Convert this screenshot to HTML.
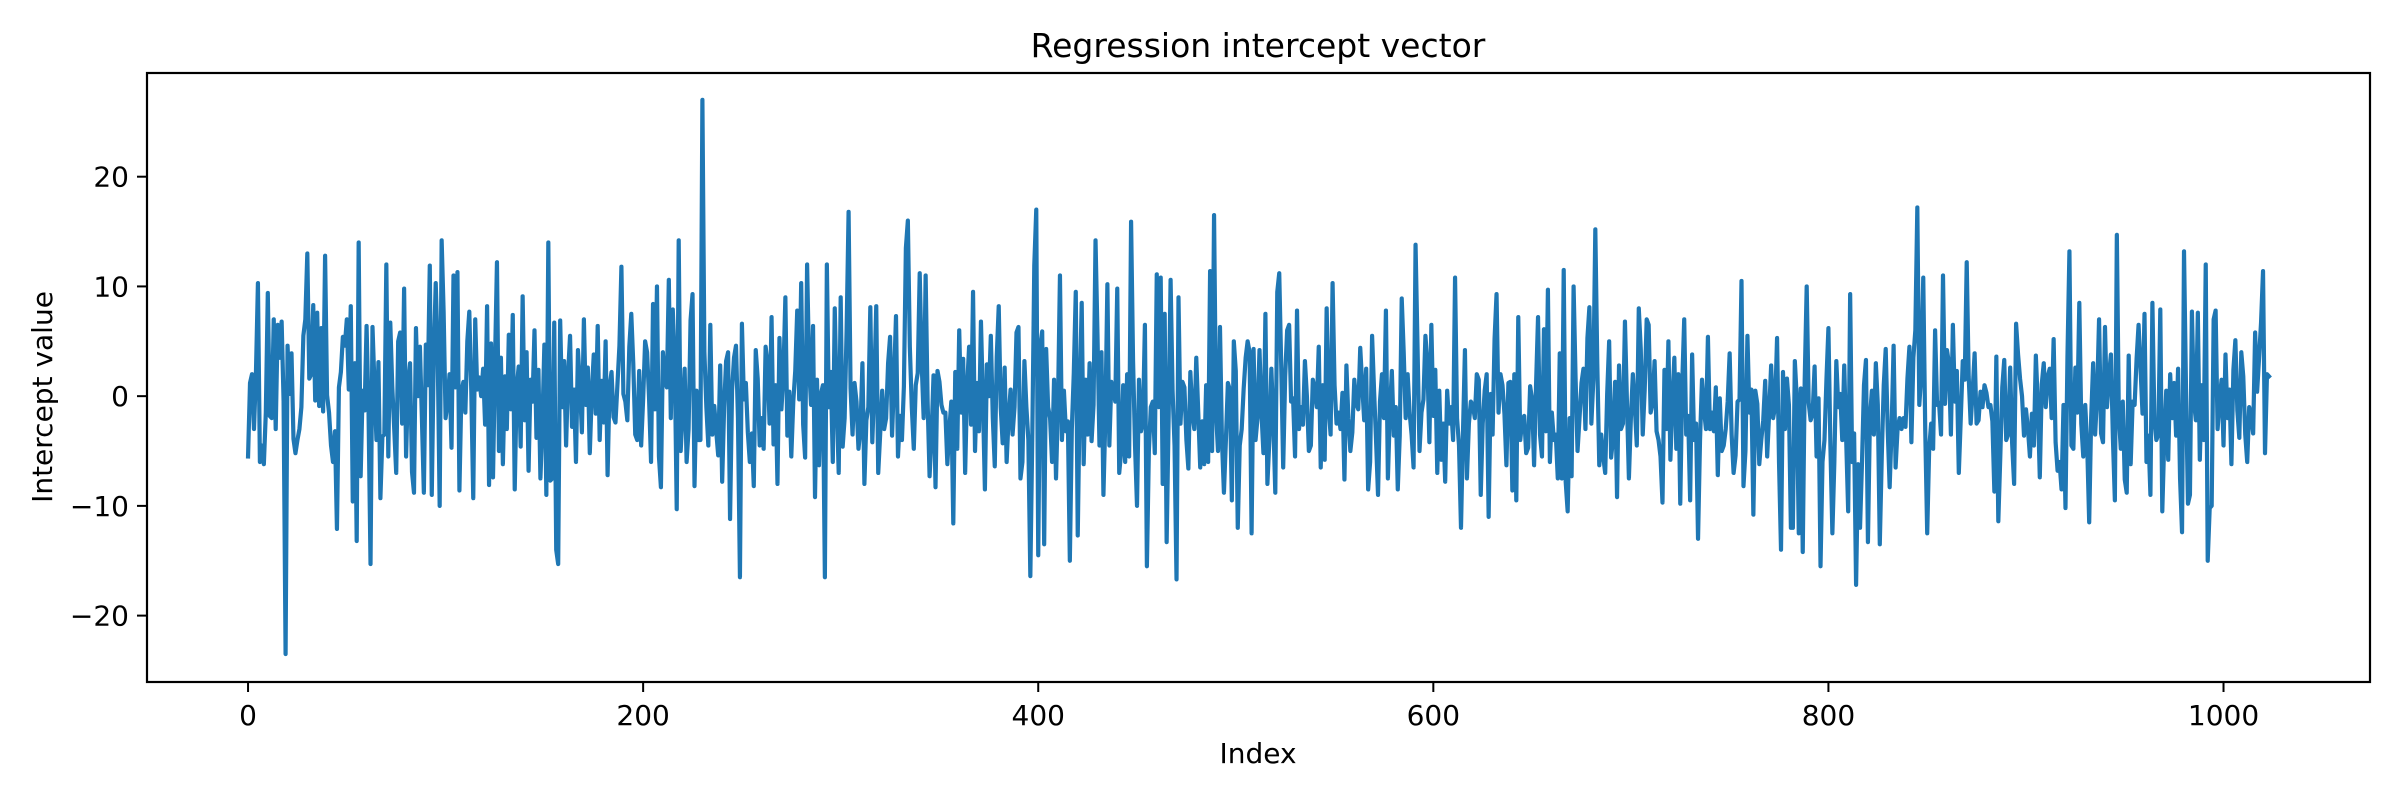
<!DOCTYPE html>
<html><head><meta charset="utf-8">
<style>
html,body{margin:0;padding:0;background:#fff;}
svg{display:block;font-family:"DejaVu Sans","Liberation Sans",sans-serif;}
</style></head>
<body>
<svg id="chart" width="2400" height="800" viewBox="0 0 2400 800" xmlns="http://www.w3.org/2000/svg">
<rect width="2400" height="800" fill="#fff"/>
<text x="1258" y="57" font-size="33" text-anchor="middle" fill="#000">Regression intercept vector</text>
<g id="ticks"></g>
<g id="series"></g>
<rect x="147" y="73" width="2223" height="609" fill="none" stroke="#000" stroke-width="2.2"/>
<text x="1258" y="763" font-size="28" text-anchor="middle" fill="#000">Index</text>
<text x="0" y="0" font-size="28" text-anchor="middle" fill="#000" transform="translate(52,397) rotate(-90)">Intercept value</text>
</svg>
<script>
const xTicks = [0, 200, 400, 600, 800, 1000];
const yTicks = [-20, -10, 0, 10, 20];
const yTickLabels = ["\u221220", "\u221210", "0", "10", "20"];
const interceptValues = [
-5.5,1.2,2.0,-3.0,2.1,10.3,-6.0,-4.5,-6.2,-1.5,9.4,-1.8,-2.0,7.0,-3.0,6.5,3.5,6.8,-0.5,-23.5,4.6,0.2,3.9,-3.9,-5.2,-4.0,-3.0,-1.0,5.5,7.0,13.0,1.6,2.0,8.3,-0.4,7.6,-0.9,6.2,-1.4,12.8,0.1,-1.5,-4.5,-6.0,-3.2,-12.1,0.8,2.2,5.4,4.6,7.0,0.6,8.2,-9.6,3.0,-13.2,14.0,-7.3,0.5,-1.3,6.4,-1.5,
-15.3,6.3,1.0,-4.0,3.1,-9.3,-3.7,-3.5,12.0,-5.5,6.7,0.9,-3.0,-7.0,5.0,5.8,-2.5,9.8,-5.5,1.2,3.0,-6.9,-8.8,6.2,0.0,4.5,-2.0,-8.8,4.7,1.0,11.9,-9.0,3.5,10.3,4.0,-10.0,14.2,7.7,-2.0,-0.5,2.0,-4.7,11.0,0.8,11.3,-8.6,0.4,1.3,-1.5,5.0,7.7,0.5,-9.3,7.0,0.6,1.7,0.0,2.5,-2.6,8.2,-8.1,4.8,-7.4,3.0,12.2,-5.0,
3.5,-6.2,1.8,-3.0,5.6,-1.2,7.4,-8.5,0.8,2.7,-4.6,9.1,-2.2,4.0,-6.8,1.5,-0.5,6.0,-3.8,2.4,-7.5,
-2.5,4.7,-9.0,14.0,-7.7,-7.5,6.7,-14.0,-15.3,6.9,
-1.0,3.2,-4.5,2.0,5.5,-2.8,0.6,-6.0,4.2,1.0,-3.3,7.0,-0.8,2.6,-5.2,0.3,3.8,-1.6,6.4,-4.0,1.4,-2.4,5.0,-7.2,0.9,2.2,
-1.9,-2.4,1.1,4.6,11.8,0.2,-0.5,-2.2,4.5,7.5,3.0,-3.5,-4.0,2.3,-4.5,-0.3,5.0,4.0,-0.2,-6.0,8.4,-1.2,10.0,-5.5,-8.3,4.0,1.5,0.8,10.6,-2.0,7.9,3.0,-10.3,14.2,-5.0,-1.5,2.5,-6.0,-3.0,6.9,9.3,-8.2,0.5,-4.0,-4.0,27.0,4.0,-1.0,-4.5,6.5,-3.5,-0.9,-3.2,-5.4,
2.8,-7.8,-1.0,3.2,4.0,-11.2,0.5,3.5,4.6,-2.0,-16.5,6.6,-0.3,1.2,-3.3,-6.0,-3.4,-8.2,4.2,1.6,-4.5,-2.0,-4.8,4.5,
3.0,-2.5,7.2,-4.4,1.0,-8.0,5.3,-1.2,2.0,9.0,-3.6,0.4,-5.5,
-0.5,2.3,7.8,-0.3,10.3,-2.6,-5.6,12.0,2.7,-0.8,6.4,-9.2,1.5,-6.3,0.2,1.0,-16.5,12.0,-1.0,2.2,-6.0,8.0,-0.5,-7.0,9.0,-4.6,-2.0,6.0,16.8,0.7,-3.5,1.2,-0.5,-4.8,-3.0,3.0,-8.0,-2.2,-1.0,8.1,
-4.2,1.0,8.2,-7.0,-3.4,0.5,-3.0,-2.0,3.0,5.4,-3.6,1.5,7.3,-5.5,-1.8,-4.0,0.9,13.5,16.0,4.5,-1.0,-4.8,1.0,2.1,11.2,3.0,-2.0,11.0,-0.5,-7.3,-3.5,1.9,-8.3,2.3,1.3,-0.8,-1.5,-1.5,-6.2,-3.0,-0.5,-11.6,
2.2,-4.8,6.0,-1.5,3.4,-7.0,0.8,4.5,-2.6,9.5,-5.0,1.2,-3.2,6.8,-0.4,-8.5,2.9,0.0,5.5,-2.0,-6.4,3.6,8.2,-1.0,-4.3,
2.6,-6.0,-2.0,0.6,-3.5,-1.0,5.8,6.3,-7.5,-6.0,3.2,-1.0,-4.0,-16.4,-3.5,11.9,17.0,-14.5,4.5,5.9,-13.5,4.3,
-1.0,-2.0,-6.0,1.5,-7.5,-0.7,11.0,-4.0,0.5,-3.2,-2.3,-15.0,-3.0,2.1,9.5,-12.7,0.0,8.5,-6.2,1.5,-3.5,3.0,-4.1,-0.8,14.2,5.5,-4.5,4.0,-9.0,-1.8,10.2,-4.5,1.3,0.6,-0.5,9.8,-7.0,-5.0,1.0,-6.0,2.0,-5.5,15.9,3.2,-4.5,-10.0,1.5,-3.2,-2.4,6.5,-15.5,-5.0,-1.0,-0.5,-5.2,11.1,-1.0,10.8,-8.0,7.5,-13.3,-2.0,10.6,0.5,
-4.5,-16.7,9.0,-2.5,1.3,0.8,-4.0,-6.6,2.2,-1.5,-3.0,3.5,-1.5,-6.5,-2.3,-6.2,1.0,-6.0,11.4,-5.0,16.5,-1.5,-5.0,6.3,-4.0,-8.8,-4.0,1.2,0.6,-9.5,5.0,2.3,-12.0,-4.5,-3.0,0.7,3.5,5.0,4.0,-12.5,4.3,-4.0,-2.0,4.2,-1.5,-5.2,7.5,-8.0,-4.0,2.5,-2.3,-8.8,9.5,11.2,2.8,-6.5,1.8,6.0,6.5,-0.5,-0.2,-5.5,7.8,-3.0,
-1.0,-2.6,3.2,0.0,-5.0,-4.5,1.5,0.6,-1.0,4.5,-6.5,1.0,-5.8,8.0,-1.0,-3.5,10.3,1.0,-2.5,-1.5,-3.0,0.3,-7.6,2.8,-2.0,-5.0,-3.3,1.5,-0.7,-1.2,4.4,1.0,-2.2,2.5,-8.5,-6.0,5.5,0.5,-4.0,-9.0,-0.5,2.0,-2.0,7.8,-7.5,-1.5,2.3,-3.6,-1.0,-8.5,-3.6,8.9,4.0,-2.0,2.0,-1.5,-3.5,-6.5,13.8,4.5,-5.0,-1.5,-0.3,5.5,
3.0,-4.2,6.5,-1.8,2.4,-7.0,0.5,
-5.8,-2.5,-7.8,0.5,-2.5,-1.0,-4.0,10.8,-2.0,-4.5,-12.0,-3.4,4.2,-7.5,-2.5,-0.5,-0.8,-2.0,2.0,1.5,-9.0,-2.5,0.5,2.0,-11.0,0.2,-3.5,5.2,9.3,-1.5,2.0,1.0,-1.6,-6.3,1.2,1.3,-8.6,2.0,-9.5,7.2,-4.0,-2.2,-1.8,-5.2,-4.7,0.9,-0.3,-6.3,1.0,7.2,-3.5,-5.5,6.1,-3.2,9.7,-6.0,-1.5,-4.0,-3.5,-7.5,3.9,-7.5,11.5,-7.8,
-10.5,-2.0,-7.3,10.0,1.7,-5.0,-2.0,1.2,2.5,-3.0,5.3,8.1,-2.5,1.5,15.2,3.0,-6.3,-3.5,-5.5,-7.0,0.2,5.0,-5.6,-3.8,1.3,-9.2,2.8,-3.0,-2.5,6.8,-0.5,-7.5,-2.0,2.0,-1.0,-4.5,8.0,4.3,-3.5,0.6,7.0,6.5,-1.5,-0.6,3.2,-3.2,-4.0,-5.5,-9.7,2.4,-3.0,5.0,-5.8,-0.6,3.5,-4.8,2.0,-9.8,1.2,7.0,-3.5,-1.8,-9.5,3.8,
-4.0,-2.5,-13.0,-4.0,1.5,-1.2,-3.0,5.4,-3.0,-1.5,-3.2,0.8,-7.2,-0.2,-5.0,-4.5,-3.0,-0.5,3.9,-3.5,-7.0,-5.4,-0.5,-0.3,10.5,-8.2,-5.0,5.5,-1.5,0.6,-10.8,0.5,-0.7,-6.2,-4.0,-2.2,1.4,-5.5,-1.5,2.8,-2.0,-1.0,5.3,-6.1,-14.0,2.2,-3.0,1.6,-0.8,-12.0,-12.0,3.2,-0.3,-12.5,0.7,-14.2,1.5,10.0,-0.6,-2.2,-1.6,2.7,-5.5,-0.2,
-15.5,-6.0,-4.0,1.5,6.2,-4.5,-12.5,-6.0,3.2,-1.0,0.2,-4.0,2.8,-4.0,-10.5,9.3,-6.0,-3.4,-17.2,-6.2,-12.0,-6.0,1.0,3.3,-13.3,-2.0,0.5,-3.5,3.0,-0.8,-13.5,-5.5,1.0,4.3,-3.0,-8.3,-2.8,4.6,-6.5,-3.0,-2.0,-3.0,-2.0,-2.8,1.6,4.5,-4.2,3.5,6.0,17.2,-0.8,2.0,10.8,-3.0,-12.5,-4.8,-2.5,-4.8,6.0,-0.8,-0.6,-3.5,11.0,-0.7,
4.2,3.0,-3.5,6.5,-0.5,2.3,-7.0,-2.0,3.2,1.5,12.2,1.8,-2.5,0.4,3.9,-2.5,-2.2,0.4,-1.0,1.0,0.3,-1.0,-0.8,-2.3,-8.7,3.6,-11.4,-5.5,0.8,3.3,-4.0,-3.5,2.6,-4.3,-8.0,6.6,3.8,1.6,0.0,-3.6,-1.2,-3.0,-5.5,-1.6,-4.5,3.7,-0.7,-7.4,1.1,3.0,-1.0,1.8,2.5,-2.0,5.2,-4.2,-6.8,-6.0,-8.5,-0.8,-10.2,3.6,13.2,-4.5,
-4.8,2.6,-1.5,8.5,-2.5,-5.5,-0.8,-4.5,-11.5,-2.0,3.0,-3.5,0.0,7.0,-3.4,-4.2,6.3,-1.0,1.8,3.8,-3.8,-9.5,14.7,-1.7,-4.8,-0.5,-7.6,-8.8,3.7,-6.2,-0.5,-0.8,3.4,6.5,2.5,-1.6,7.5,-6.0,-3.6,-9.0,8.5,-2.0,-4.0,-3.5,7.9,-10.5,-4.0,0.5,-5.8,2.0,-2.0,1.2,-3.6,2.5,-7.5,-12.4,13.2,0.8,-9.8,-9.0,7.7,-0.4,-2.2,7.6,
-5.8,1.0,-4.0,12.0,-15.0,-10.2,-10.0,7.0,7.8,-3.0,-0.5,
1.5,-4.5,3.8,-2.0,0.6,-6.2,2.4,5.1,-1.3,-3.8,4.0,
1.8,-3.5,-6.0,-1.0,-1.8,-3.4,5.8,0.4,3.5,6.7,11.4,-5.2,2.0,1.8
];
</script>
<script>
const X0 = 147, X1 = 2370, Y0 = 73, Y1 = 682;
const xMin = -51.15, xMax = 1074.15, yMin = -26.05, yMax = 29.45;
function xScale(i){ return X0 + (i - xMin) / (xMax - xMin) * (X1 - X0); }
function yScale(v){ return Y1 - (v - yMin) / (yMax - yMin) * (Y1 - Y0); }
const NS = "http://www.w3.org/2000/svg";
const tg = document.getElementById('ticks');
xTicks.forEach(function(t){
  const x = xScale(t);
  const l = document.createElementNS(NS,'line');
  l.setAttribute('x1',x); l.setAttribute('x2',x);
  l.setAttribute('y1',Y1); l.setAttribute('y2',Y1+10);
  l.setAttribute('stroke','#000'); l.setAttribute('stroke-width','2');
  
  
  tg.appendChild(l);
  const tx = document.createElementNS(NS,'text');
  tx.setAttribute('x',x); tx.setAttribute('y',Y1+43);
  tx.setAttribute('font-size','28'); tx.setAttribute('text-anchor','middle');
  tx.textContent = String(t);
  
  
  tg.appendChild(tx);
});
yTicks.forEach(function(t, k){
  const y = yScale(t);
  const l = document.createElementNS(NS,'line');
  l.setAttribute('x1',X0-10); l.setAttribute('x2',X0);
  l.setAttribute('y1',y); l.setAttribute('y2',y);
  l.setAttribute('stroke','#000'); l.setAttribute('stroke-width','2');
  
  
  tg.appendChild(l);
  const tx = document.createElementNS(NS,'text');
  tx.setAttribute('x',X0-18); tx.setAttribute('y',y+10);
  tx.setAttribute('font-size','28'); tx.setAttribute('text-anchor','end');
  tx.textContent = yTickLabels[k];
  
  
  tg.appendChild(tx);
});
const pts = interceptValues.map(function(v,i){ return xScale(i).toFixed(2)+','+yScale(v).toFixed(2); }).join(' ');
const pl = document.createElementNS(NS,'polyline');
pl.setAttribute('points', pts);
pl.setAttribute('fill','none'); pl.setAttribute('stroke','#1f77b4');
pl.setAttribute('stroke-width','4.2'); pl.setAttribute('stroke-linejoin','round'); pl.setAttribute('stroke-linecap','square');


document.getElementById('series').appendChild(pl);
</script>
</body></html>
